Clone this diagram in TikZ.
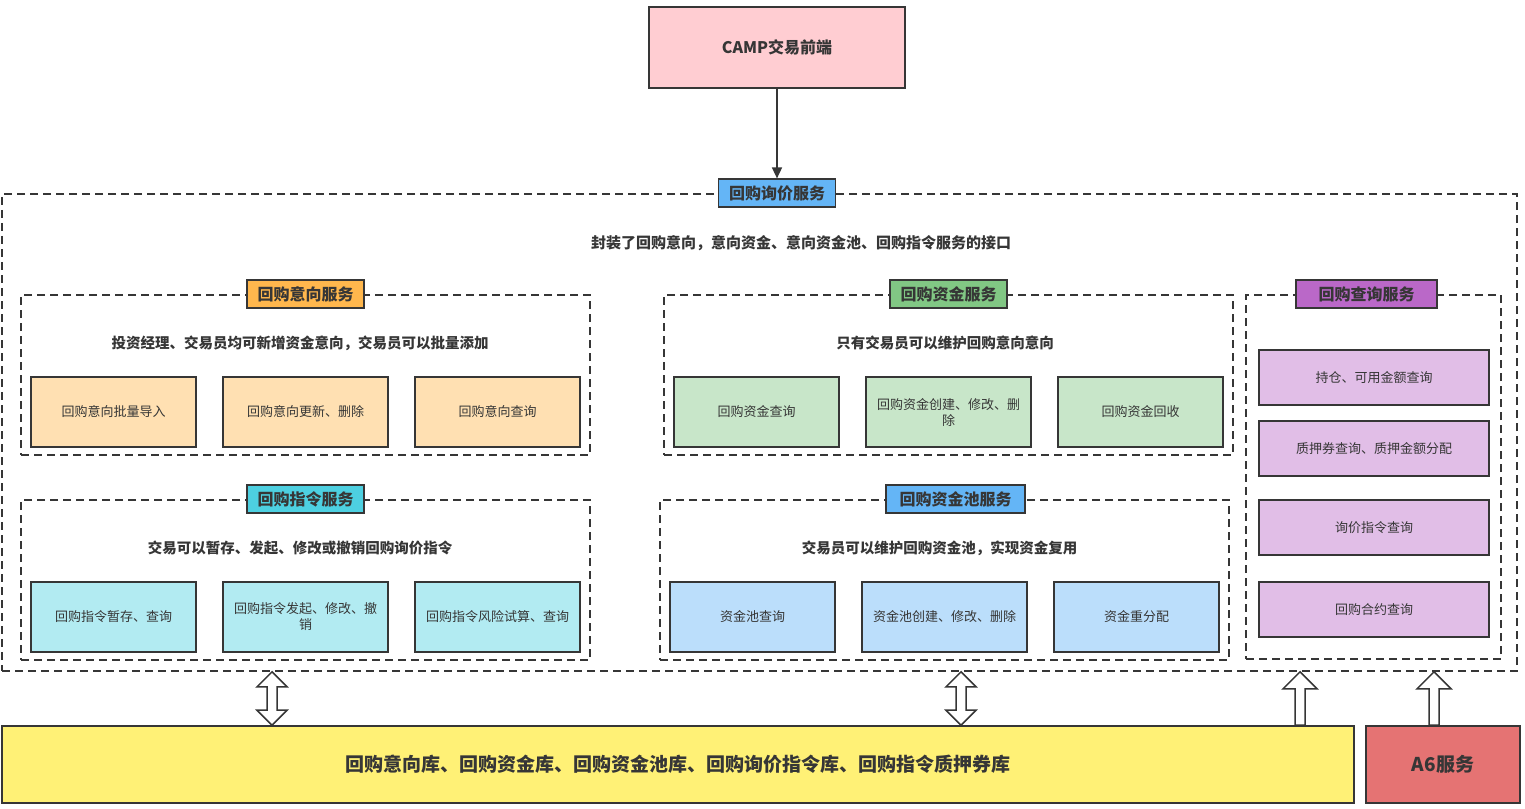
\documentclass[tikz,border=0pt]{standalone}
\usepackage{fontspec}
\setmainfont{Noto Sans CJK SC}
\usepackage{tikz}
\usetikzlibrary{arrows.meta,positioning,calc}
\definecolor{dark}{RGB}{54,54,54}
\definecolor{campfill}{RGB}{255,205,210}
\definecolor{bluetitle}{RGB}{100,181,246}
\definecolor{orangetitle}{RGB}{255,183,77}
\definecolor{greentitle}{RGB}{129,199,132}
\definecolor{purpletitle}{RGB}{186,104,200}
\definecolor{cyantitle}{RGB}{77,208,225}
\definecolor{yxfill}{RGB}{255,224,178}
\definecolor{zjfill}{RGB}{200,230,201}
\definecolor{cxfill}{RGB}{225,190,231}
\definecolor{zlfill}{RGB}{178,235,242}
\definecolor{zcfill}{RGB}{187,222,251}
\definecolor{dbfill}{RGB}{255,241,118}
\definecolor{afill}{RGB}{229,115,115}

\begin{document}
\begin{tikzpicture}[x=1pt,y=-1pt,
	item/.style={draw=dark, line width=1.6pt, text=dark, align=center, inner sep=0pt,
		font=\fontsize{13}{16}\selectfont, minimum width=165pt, minimum height=70pt},
	group/.style={draw=dark, line width=1.6pt, dash pattern=on 8pt off 5pt, inner sep=0pt,
		minimum width=569pt, minimum height=160pt},
	title/.style={draw=dark, line width=1.6pt, text=dark, inner sep=0pt,
		font=\bfseries\fontsize{16}{18}\selectfont, minimum width=117pt, minimum height=28pt},
	desc/.style={text=dark, font=\bfseries\fontsize{14.5}{17}\selectfont},
	big/.style={draw=dark, line width=1.6pt, text=dark, minimum height=77pt,
		font=\bfseries\fontsize{19}{22}\selectfont},
	dblarrow/.style={draw=dark, fill=white, line width=1.5pt, to path={
		(\tikztostart) -- ++(15,15) -- ++(-10,0) -- ($(\tikztotarget)+(5,-15)$) -- ++(10,0)
		-- (\tikztotarget) -- ++(-15,-15) -- ++(10,0) -- ($(\tikztostart)+(-5,15)$) -- ++(-10,0) -- cycle}},
	uparrow/.style={draw=dark, fill=white, line width=1.5pt, to path={
		($(\tikztostart)+(-5,0)$) -- ($(\tikztotarget)+(-5,17)$) -- ++(-12,0) -- (\tikztotarget)
		-- ++(17,17) -- ++(-12,0) -- ($(\tikztostart)+(5,0)$) -- cycle}}]
	\useasboundingbox (0,0) rectangle (1525,808);

	\node[draw=dark, line width=1.6pt, fill=campfill, text=dark, minimum width=256pt, minimum height=81pt,
		font=\bfseries\fontsize{16}{18}\selectfont] (camp) at (777,47.5) {CAMP交易前端};

	\node[group, minimum width=1515pt, minimum height=477pt] (outer) at (759.5,432.5) {};
	\node[title, fill=bluetitle] (outertitle) at (camp.south |- outer.north) {回购询价服务};
	\node[desc, font=\bfseries\fontsize{15}{17}\selectfont] (outerdesc) at (801,243) {封装了回购意向，意向资金、意向资金池、回购指令服务的接口};
	\draw[dark, line width=1.6pt, -{Triangle[length=11pt,width=10pt]}] (camp) -- (outertitle);

	\node[group] (yx) at (305.5,375) {};
	\node[title, fill=orangetitle] (yxtitle) at (yx.north) {回购意向服务};
	\node[desc] (yxdesc) at (300,343) {投资经理、交易员均可新增资金意向，交易员可以批量添加};
	\foreach \i/\t in {1/回购意向批量导入,2/回购意向更新、删除,3/回购意向查询}
		\node[item, fill=yxfill] (yx\i) at ({113.5+192*(\i-1)},412) {\t};

	\node[group] (zj) at (948.5,375) {};
	\node[title, fill=greentitle] (zjtitle) at (zj.north) {回购资金服务};
	\node[desc] (zjdesc) at (945,343) {只有交易员可以维护回购意向意向};
	\foreach \i/\t in {1/回购资金查询,2/{回购资金创建、修改、删\\除},3/回购资金回收}
		\node[item, fill=zjfill] (zj\i) at ({756.5+192*(\i-1)},412) {\t};

	\node[group] (zl) at (305.5,580) {};
	\node[title, fill=cyantitle] (zltitle) at (zl.north) {回购指令服务};
	\node[desc] (zldesc) at (300,548) {交易可以暂存、发起、修改或撤销回购询价指令};
	\foreach \i/\t in {1/回购指令暂存、查询,2/{回购指令发起、修改、撤\\销},3/回购指令风险试算、查询}
		\node[item, fill=zlfill] (zl\i) at ({113.5+192*(\i-1)},617) {\t};

	\node[group] (zc) at (944.5,580) {};
	\node[title, fill=bluetitle, minimum width=139pt] (zctitle) at ([xshift=11pt]zc.north) {回购资金池服务};
	\node[desc] (zcdesc) at (939.5,548) {交易员可以维护回购资金池，实现资金复用};
	\foreach \i/\t in {1/资金池查询,2/资金池创建、修改、删除,3/资金重分配}
		\node[item, fill=zcfill] (zc\i) at ({752.5+192*(\i-1)},617) {\t};

	\node[group, minimum width=255pt, minimum height=364pt] (cx) at (1373.5,477) {};
	\node[title, fill=purpletitle, minimum width=141pt] (cxtitle) at ([xshift=-7pt]cx.north) {回购查询服务};
	\foreach \i/\t/\y in {1/持仓、可用金额查询/377.5,2/质押券查询、质押金额分配/448.5,3/询价指令查询/527.5,4/回购合约查询/609.5}
		\node[item, fill=cxfill, minimum width=230pt, minimum height=55pt] (cx\i) at (1374,\y) {\t};

	\node[big, fill=dbfill, minimum width=1352pt] (db) at (678,764.5) {回购意向库、回购资金库、回购资金池库、回购询价指令库、回购指令质押券库};
	\node[big, fill=afill, minimum width=154pt] (a6) at (1443,764.5) {A6服务};

	\coordinate (c1) at (272,700);
	\coordinate (c2) at (961,700);
	\coordinate (c3) at (1300,700);
	\coordinate (c4) at (1434,700);
	\draw[dblarrow] (outer.south -| c1) to (db.north -| c1);
	\draw[dblarrow] (outer.south -| c2) to (db.north -| c2);
	\draw[uparrow] (db.north -| c3) to (outer.south -| c3);
	\draw[uparrow] (a6.north -| c4) to (outer.south -| c4);
\end{tikzpicture}
\end{document}
